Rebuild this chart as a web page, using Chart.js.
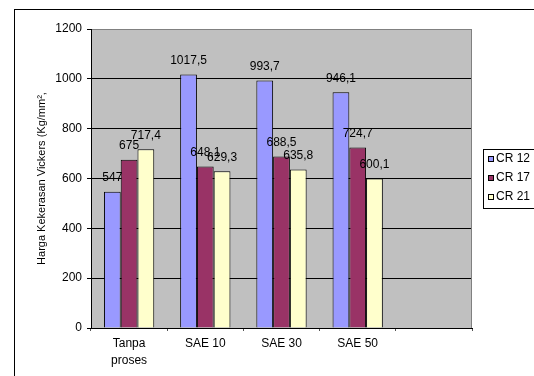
<!DOCTYPE html>
<html>
<head>
<meta charset="utf-8">
<script src="https://cdn.jsdelivr.net/npm/chart.js@4.4.0/dist/chart.umd.min.js"></script>
<style>
  html, body { margin: 0; padding: 0; background: #fff; overflow: hidden; width: 534px; height: 376px; }
  #frame { position: absolute; left: 14px; top: 9px; width: 600px; height: 450px; border: 1px solid #000; }
  #wrap { position: absolute; left: 0; top: 0; width: 534px; height: 376px; }
</style>
</head>
<body>
<div id="frame"></div>
<div id="wrap"><canvas id="c" width="534" height="376"></canvas></div>
<script>
const categories = [['Tanpa', 'proses'], 'SAE 10', 'SAE 30', 'SAE 50', ''];
const seriesNames = ['CR 12', 'CR 17', 'CR 21'];
const cr12 = [547, 1017.5, 993.7, 946.1, null];
const cr17 = [675, 648.1, 688.5, 724.7, null];
const cr21 = [717.4, 629.3, 635.8, 600.1, null];
const yTicks = [0, 200, 400, 600, 800, 1000, 1200];
const yTitle = 'Harga Kekerasan Vickers (Kg/mm\u00B2,';
const colors = ['#9999FF', '#993366', '#FFFFCC'];

const FONT = '"Liberation Sans", Arial, sans-serif';

const customPlugin = {
  id: 'custom',
  beforeDraw(chart) {
    const { ctx, chartArea: a } = chart;
    ctx.save();
    ctx.fillStyle = '#C0C0C0';
    ctx.fillRect(a.left, a.top, a.right - a.left, a.bottom - a.top);
    ctx.restore();
  },
  afterDraw(chart) {
    const { ctx, chartArea: a } = chart;
    ctx.save();
    ctx.strokeStyle = '#808080';
    ctx.lineWidth = 1;
    ctx.beginPath();
    ctx.moveTo(Math.round(a.right) - 0.5, a.top);
    ctx.lineTo(Math.round(a.right) - 0.5, a.bottom);
    ctx.stroke();

    ctx.fillStyle = '#000';
    ctx.font = '12px ' + FONT;
    ctx.textAlign = 'center';
    ctx.textBaseline = 'middle';
    chart.data.datasets.forEach((ds, di) => {
      const meta = chart.getDatasetMeta(di);
      meta.data.forEach((el, i) => {
        const v = ds.data[i];
        if (v === null || v === undefined) return;
        ctx.fillText(String(v).replace('.', ','), el.x, el.y - 14);
      });
    });

    ctx.save();
    ctx.translate(42, (a.top + a.bottom) / 2);
    ctx.rotate(-Math.PI / 2);
    ctx.font = '11px ' + FONT;
    ctx.fillText(yTitle, 0, 0);
    ctx.restore();

    const lx = 483.5, ly = 149.5;
    ctx.strokeStyle = '#000';
    ctx.lineWidth = 1;
    ctx.fillStyle = '#fff';
    ctx.fillRect(lx, ly, 80, 59);
    ctx.strokeRect(lx, ly, 80, 59);
    ctx.font = '12px ' + FONT;
    ctx.textAlign = 'left';
    chart.data.datasets.forEach((ds, di) => {
      const cy = 159 + di * 19;
      ctx.fillStyle = ds.backgroundColor;
      ctx.fillRect(488.5, cy - 2.5, 5, 5);
      ctx.strokeRect(488.5, cy - 2.5, 5, 5);
      ctx.fillStyle = '#000';
      ctx.fillText(ds.label, 496, cy);
    });
    ctx.restore();
  }
};

new Chart(document.getElementById('c'), {
  type: 'bar',
  data: {
    labels: categories,
    datasets: [
      { label: seriesNames[0], data: cr12, backgroundColor: colors[0] },
      { label: seriesNames[1], data: cr17, backgroundColor: colors[1] },
      { label: seriesNames[2], data: cr21, backgroundColor: colors[2] }
    ].map(d => Object.assign(d, { borderColor: '#000', borderWidth: 1, categoryPercentage: 0.66, barPercentage: 1 }))
  },
  options: {
    responsive: false,
    animation: false,
    devicePixelRatio: 1,
    layout: { padding: { top: 29, right: 62, left: 0, bottom: 0 } },
    plugins: { legend: { display: false }, tooltip: { enabled: false } },
    scales: {
      x: {
        grid: { drawOnChartArea: false, drawTicks: true, tickLength: 3, color: '#555' },
        border: { color: '#000', width: 1 },
        ticks: { color: '#000', font: { family: FONT, size: 12, lineHeight: 1.35 }, padding: 5, maxRotation: 0, autoSkip: false },
        afterFit(scale) { scale.height = 48; }
      },
      y: {
        min: 0, max: 1200,
        afterBuildTicks(scale) { scale.ticks = yTicks.map(v => ({ value: v })); },
        grid: {
          color: ctx => (ctx.tick && ctx.tick.value === 1200) ? '#808080' : '#000',
          tickColor: '#000',
          tickLength: 4
        },
        border: { color: '#000', width: 1 },
        ticks: { color: '#000', font: { family: FONT, size: 12 }, padding: 5, callback: v => String(v) },
        afterFit(scale) { scale.width = 91; }
      }
    }
  },
  plugins: [customPlugin]
});
</script>
</body>
</html>
